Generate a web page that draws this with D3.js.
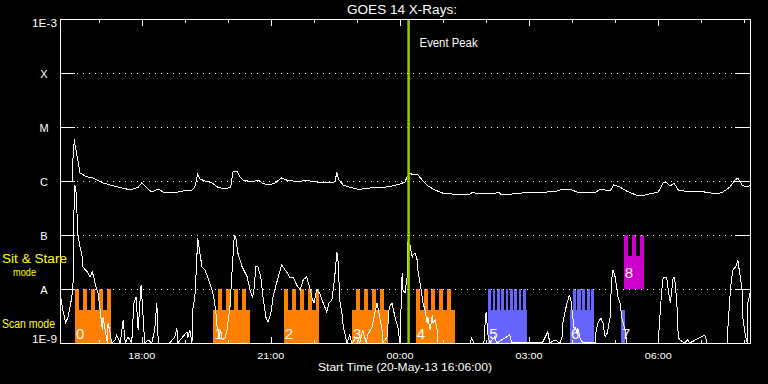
<!DOCTYPE html>
<html><head><meta charset="utf-8">
<script src="https://cdn.jsdelivr.net/npm/d3@7"></script>
<style>
html,body{margin:0;padding:0;background:#000;}
svg{display:block;}
</style></head>
<body>
<svg id="chart" width="768" height="384"></svg>
<script>
// ---------- DATA ----------
const startTime = Date.UTC(2013, 4, 20, 16, 6, 0);   // 20-May-13 16:06:00
const spanMinutes = 962;
const levelValues = [1e-9, 1e-8, 1e-7, 1e-6, 1e-5, 1e-4, 1e-3];
const levelLabels = ['1E-9', 'A', 'B', 'C', 'M', 'X', '1E-3'];
const titleText = 'GOES 14 X-Rays:';
const xTitleText = 'Start Time (20-May-13 16:06:00)';
const eventPeakMinute = 486;
const eventLabel = 'Event Peak';
const modeLabels = ['Sit & Stare', 'mode', 'Scan mode'];

// GOES long channel (1-8 A), minutes after start / flux W m^-2
const longMinutes = [0,17,18,20,21,24,28,35,42,46,
  52,60,70,81,93,102,109,114,121,128,
  137,144,153,164,170,184,188,192,195,202,
  212,220,230,238,241,247,251,255,268,276,
  282,290,300,309,316,325,332,342,349,358,
  372,383,386,389,395,404,414,421,432,442,
  453,464,474,481,484,488,492,498,505,513,
  523,533,546,569,576,581,604,611,616,630,
  645,659,679,693,701,714,721,746,753,760,
  767,772,781,790,806,815,822,834,841,846,
  851,856,862,871,899,917,924,934,941,945,
  951,958,962];
const longFlux = [9.6e-7,9.6e-7,2.45e-6,6.0e-6,4.6e-6,2.8e-6,1.41e-6,1.24e-6,1.14e-6,1.14e-6,
  1.04e-6,9.2e-7,8.4e-7,7.7e-7,7.1e-7,7.1e-7,7.7e-7,9.2e-7,7.4e-7,6.25e-7,
  7.1e-7,6.25e-7,6.0e-7,6.25e-7,6.5e-7,6.8e-7,7.7e-7,1.35e-6,1.09e-6,1.0e-6,
  9.2e-7,7.7e-7,7.1e-7,7.7e-7,1.47e-6,1.53e-6,1.19e-6,1.04e-6,9.6e-7,1.04e-6,
  9.2e-7,8.4e-7,9.2e-7,1.14e-6,1.04e-6,1.0e-6,9.6e-7,1.04e-6,1.0e-6,9.6e-7,
  9.2e-7,9.6e-7,1.41e-6,1.04e-6,8.4e-7,7.7e-7,7.1e-7,7.1e-7,7.4e-7,7.7e-7,
  7.7e-7,8.1e-7,8.8e-7,9.6e-7,1.19e-6,1.41e-6,1.29e-6,1.35e-6,1.04e-6,8.1e-7,
  6.8e-7,6.0e-7,5.75e-7,5.5e-7,6.25e-7,5.75e-7,5.75e-7,6.25e-7,5.5e-7,5.75e-7,
  6.0e-7,6.25e-7,6.25e-7,6.5e-7,7.1e-7,6.8e-7,6.25e-7,6.0e-7,7.1e-7,6.8e-7,
  6.5e-7,8.4e-7,7.7e-7,6.5e-7,5.3e-7,5.5e-7,5.75e-7,6.25e-7,9.2e-7,9.2e-7,
  8.1e-7,9.2e-7,6.8e-7,6.5e-7,6.25e-7,5.75e-7,6.25e-7,7.7e-7,1.04e-6,1.14e-6,
  8.4e-7,7.7e-7,8.4e-7];

// GOES short channel (0.5-4 A)
const shortMinutes = [0,4,8,11,15,18,20,22,24,25,
  28,31,32,38,42,45,47,50,53,56,
  59,60,63,66,67,70,72,77,79,84,
  88,91,95,100,103,106,109,113,116,118,
  123,128,132,135,137,153,160,163,164,177,
  178,181,184,185,188,190,192,195,198,202,
  206,212,215,217,219,222,224,226,230,233,
  234,237,240,243,245,248,254,261,265,268,
  270,273,276,280,283,287,290,294,297,302,
  307,309,316,321,325,330,335,339,344,349,
  351,354,358,362,367,372,375,379,383,386,
  388,390,393,395,397,400,404,407,414,418,
  422,427,429,435,439,442,444,449,450,456,
  459,463,467,471,474,477,478,481,484,485,
  488,491,492,495,498,499,502,505,506,509,
  512,513,516,519,520,523,526,527,572,574,
  577,591,592,594,597,599,606,609,627,630,
  673,680,683,690,697,700,701,704,707,710,
  712,715,717,718,721,722,725,729,742,746,
  747,750,754,757,760,763,767,769,771,774,
  776,778,781,783,788,790,834,837,839,841,
  846,848,851,853,855,857,860,862,864,871,
  875,878,899,902,930,931,935,938,942,945,
  947,951,952,955,958,959,962];
const shortFlux = [8.4e-9,4.1e-9,2.35e-9,3.0e-9,5.5e-9,9.6e-9,8.1e-7,7.7e-7,2.1e-7,1.0e-7,
  6.0e-8,3.9e-8,2.56e-8,2.07e-8,1.67e-8,2.07e-8,1.67e-8,1.09e-8,8.4e-9,4.1e-9,
  1.74e-9,3.0e-9,1.74e-9,1.0e-9,2.35e-9,1.53e-9,1.0e-9,1.14e-9,1.41e-9,1.0e-9,
  2.67e-9,1.0e-9,1.29e-9,1.0e-9,5.5e-9,7.1e-9,1.74e-9,1.19e-8,3.0e-9,1.0e-9,
  1.14e-9,1.0e-9,1.74e-9,5.5e-9,1.0e-9,1.0e-9,1.29e-9,1.9e-9,1.0e-9,1.6e-9,
  1.24e-9,1.74e-9,1.0e-9,4.1e-9,7.1e-9,2.25e-8,8.8e-8,4.64e-8,2.56e-8,2.25e-8,
  1.67e-8,9.6e-9,6.25e-9,4.1e-9,2.0e-9,1.29e-9,1.74e-9,1.14e-9,1.24e-9,1.74e-9,
  2.35e-9,4.64e-9,2.25e-8,9.6e-8,9.2e-8,4.64e-8,2.56e-8,1.67e-8,9.6e-9,7.1e-9,
  8.4e-9,2.56e-8,2.56e-8,1.67e-8,7.1e-9,3.0e-9,2.45e-9,3.6e-9,7.1e-9,1.29e-8,
  2.25e-8,2.78e-8,2.07e-8,1.6e-8,1.67e-8,1.19e-8,9.6e-9,1.47e-8,1.67e-8,9.6e-9,
  7.1e-9,5.5e-9,9.6e-9,8.4e-9,5.5e-9,3.75e-9,5.5e-9,6.25e-9,1.67e-8,4.84e-8,
  3.03e-8,6.25e-9,3.6e-9,2.0e-9,1.53e-9,1.0e-9,1.41e-9,1.0e-9,1.29e-9,1.0e-9,
  1.74e-9,1.0e-9,1.41e-9,2.0e-9,3.6e-9,5.5e-9,4.1e-9,1.74e-9,1.0e-9,1.29e-9,
  4.64e-9,5.5e-9,3.0e-9,2.0e-9,1.0e-9,1.98e-8,9.6e-9,8.4e-9,1.67e-8,7.1e-8,
  6.5e-8,3.9e-8,4.25e-8,4.64e-8,3.44e-8,2.25e-8,1.29e-8,7.1e-9,5.5e-9,4.1e-9,
  2.35e-9,3.0e-9,1.74e-9,3.3e-9,2.35e-9,2.67e-9,1.74e-9,1.0e-9,1.0e-9,1.24e-9,
  1.0e-9,1.0e-9,1.74e-9,3.75e-9,1.29e-9,1.0e-9,1.29e-9,1.0e-9,1.41e-9,1.0e-9,
  1.04e-9,1.6e-9,1.0e-9,1.14e-9,1.0e-9,1.29e-9,2.35e-9,3.75e-9,5.5e-9,7.7e-9,
  6.8e-9,3.0e-9,1.74e-9,2.0e-9,1.53e-9,1.9e-9,1.24e-9,1.0e-9,1.04e-9,1.0e-9,
  1.53e-9,2.35e-9,2.9e-9,2.35e-9,1.29e-9,1.53e-9,3.0e-9,1.47e-8,2.25e-8,1.67e-8,
  1.09e-8,7.1e-9,5.5e-9,3.0e-9,1.74e-9,1.0e-9,1.0e-9,4.1e-9,9.6e-9,1.67e-8,
  1.6e-8,9.6e-9,5.5e-9,9.6e-9,1.67e-8,1.6e-8,5.5e-9,1.29e-9,1.14e-9,1.0e-9,
  1.14e-9,1.0e-9,1.41e-9,1.0e-9,1.0e-9,1.74e-9,1.09e-8,2.25e-8,2.56e-8,3.44e-8,
  2.25e-8,9.6e-9,3.0e-9,1.53e-9,1.0e-9,5.5e-9,8.4e-9];

// Observation blocks (minutes after start)
const blockIds      = [0, 1, 2, 3, 4, 5, 6, 7, 8];
const blockModes    = ['scan','scan','scan','scan','scan','scan','scan','scan','sit'];
const blockPrograms = ['a','a','a','a','a','b','b','b','c'];
const blockStart    = [21, 214, 312, 407, 496, 597, 711, 782, 786];
const blockEnd      = [71, 265, 361, 457, 551, 651, 744, 788, 814];
const rasterStart   = [21, 220, 312, 413, 496, 597, 715, 782, 786];
const rasterStep    = [11.15, 11.15, 11.15, 11.15, 10.9, 6.1, 6.4, 0, 11.15];
const rasterDwell   = [5.6, 5.6, 5.6, 5.6, 5.6, 3.7, 4.5, 0, 5.6];
const rasterCount   = [5, 4, 5, 4, 5, 9, 5, 0, 3];

// ---------- DRAW ----------
const W = 768, H = 384, L = 60, R = 750, T = 19, B = 343;
const FONT = "'Liberation Sans', 'DejaVu Sans', sans-serif";
const toDate = m => new Date(startTime + m * 60000);
const x = d3.scaleUtc().domain([toDate(0), toDate(spanMinutes)]).range([L, R]);
const y = d3.scaleLog().domain([1e-9, 1e-3]).range([B, T]);
const color = d3.scaleOrdinal().domain(['a','b','c']).range(['#ff8000', '#6666ff', '#cc00cc']);
const band = { scan: {base: 1e-9, body: 4.08e-9, top: 1e-8, labelUp: 4},
               sit:  {base: 1e-8, body: 4.08e-8, top: 1e-7, labelUp: 11} };

const svg = d3.select('#chart');
svg.append('rect').attr('width', W).attr('height', H).attr('fill', '#000');

svg.append('clipPath').attr('id', 'plot')
  .append('rect').attr('x', L).attr('y', T).attr('width', R - L).attr('height', B - T + 1);

// blocks
const gB = svg.append('g').attr('shape-rendering', 'crispEdges');
blockIds.forEach((id, i) => {
  const b = band[blockModes[i]];
  const c = color(blockPrograms[i]);
  const x0 = Math.round(x(toDate(blockStart[i]))), x1 = Math.round(x(toDate(blockEnd[i])));
  gB.append('rect').attr('x', x0).attr('y', Math.round(y(b.body)))
    .attr('width', x1 - x0).attr('height', Math.round(y(b.base)) - Math.round(y(b.body))).attr('fill', c);
  for (let k = 0; k < rasterCount[i]; k++) {
    const s = rasterStart[i] + k * rasterStep[i];
    const e = Math.min(s + rasterDwell[i], blockEnd[i]);
    const tx0 = Math.round(x(toDate(s))), tx1 = Math.round(x(toDate(e)));
    gB.append('rect').attr('x', tx0).attr('y', Math.round(y(b.top)))
      .attr('width', tx1 - tx0).attr('height', Math.round(y(b.body)) - Math.round(y(b.top))).attr('fill', c);
  }
});

// dotted grid + level ticks
const gG = svg.append('g').attr('shape-rendering', 'crispEdges').attr('stroke', '#fff').attr('stroke-width', 1);
levelValues.slice(1, -1).forEach(v => {
  const yy = Math.round(y(v)) + 0.5;
  gG.append('line').attr('x1', L + 17).attr('x2', R - 15).attr('y1', yy).attr('y2', yy)
    .attr('stroke-dasharray', '1,5');
  gG.append('line').attr('x1', L).attr('x2', L + 15).attr('y1', yy).attr('y2', yy);
  gG.append('line').attr('x1', R - 15).attr('x2', R).attr('y1', yy).attr('y2', yy);
});

// frame
gG.append('rect').attr('x', L + 0.5).attr('y', T + 0.5).attr('width', R - L).attr('height', B - T).attr('fill', 'none');

// time ticks
const hours = d3.utcHour.range(toDate(0), toDate(spanMinutes));
const fmt = d3.utcFormat('%H:%M');
hours.forEach(h => {
  const major = h.getUTCHours() % 3 === 0;
  const len = major ? 7 : 4;
  const xx = Math.round(x(h)) + 0.5;
  gG.append('line').attr('x1', xx).attr('x2', xx).attr('y1', T).attr('y2', T + len);
  gG.append('line').attr('x1', xx).attr('x2', xx).attr('y1', B + 1).attr('y2', B + 1 - len);
  if (major) {
    svg.append('text').attr('x', x(h)).attr('y', 358.5).attr('text-anchor', 'middle')
      .attr('fill', '#fff').attr('font-family', FONT).attr('font-size', 9.5)
      .attr('textLength', 27).attr('lengthAdjust', 'spacingAndGlyphs').text(fmt(h));
  }
});

// curves
const line = d3.line().x(d => x(toDate(d[0]))).y(d => y(d[1]));
const gC = svg.append('g').attr('clip-path', 'url(#plot)');
gC.append('path').attr('d', line(longMinutes.map((m, i) => [m, longFlux[i]])))
  .attr('fill', 'none').attr('stroke', '#fff').attr('stroke-width', 1).attr('shape-rendering', 'crispEdges');
gC.append('path').attr('d', line(shortMinutes.map((m, i) => [m, shortFlux[i]])))
  .attr('fill', 'none').attr('stroke', '#fff').attr('stroke-width', 1).attr('shape-rendering', 'crispEdges');

// block labels
blockIds.forEach((id, i) => {
  const b = band[blockModes[i]];
  svg.append('text').attr('x', x(toDate(blockStart[i])) + 1).attr('y', y(b.base) - b.labelUp)
    .attr('fill', '#fff').attr('font-family', FONT).attr('font-weight', 300).attr('font-size', 15).text(id);
});

// event peak
const ex = x(toDate(eventPeakMinute));
svg.append('line').attr('x1', ex).attr('x2', ex).attr('y1', T + 1).attr('y2', B)
  .attr('stroke', '#99cc00').attr('stroke-width', 2.5);
svg.append('text').attr('x', ex + 11).attr('y', 47).attr('fill', '#fff').attr('font-family', FONT)
  .attr('font-size', 12.5).attr('textLength', 58).attr('lengthAdjust', 'spacingAndGlyphs').text(eventLabel);

// title
svg.append('text').attr('x', 402).attr('y', 14).attr('text-anchor', 'middle').attr('fill', '#fff')
  .attr('font-family', FONT).attr('font-size', 12.5).attr('textLength', 110).attr('lengthAdjust', 'spacingAndGlyphs')
  .text(titleText);

// y labels
levelValues.forEach((v, i) => {
  const lab = levelLabels[i];
  const t = svg.append('text').attr('fill', '#fff').attr('font-family', FONT).attr('font-size', 11);
  if (lab.length > 1) {
    const yy = i === 0 ? y(v) : y(v) + 7.5;
    t.attr('x', L - 3).attr('y', yy).attr('text-anchor', 'end')
      .attr('textLength', 25).attr('lengthAdjust', 'spacingAndGlyphs').text(lab);
  } else {
    t.attr('x', L - 16).attr('y', y(v) + 5).attr('text-anchor', 'middle').text(lab);
  }
});

// x title
svg.append('text').attr('x', 405).attr('y', 371).attr('text-anchor', 'middle').attr('fill', '#fff')
  .attr('font-family', FONT).attr('font-size', 11).attr('textLength', 174).attr('lengthAdjust', 'spacingAndGlyphs')
  .text(xTitleText);

// mode labels
const modePos = [[2, 262.5, 65, 12], [13, 276, 23, 10.5], [2, 328, 53, 12.5]];
modeLabels.forEach((s, i) => {
  svg.append('text').attr('x', modePos[i][0]).attr('y', modePos[i][1]).attr('fill', '#ffff00')
    .attr('font-family', FONT).attr('font-size', modePos[i][3]).attr('textLength', modePos[i][2])
    .attr('lengthAdjust', 'spacingAndGlyphs').text(s);
});
</script>
</body></html>
